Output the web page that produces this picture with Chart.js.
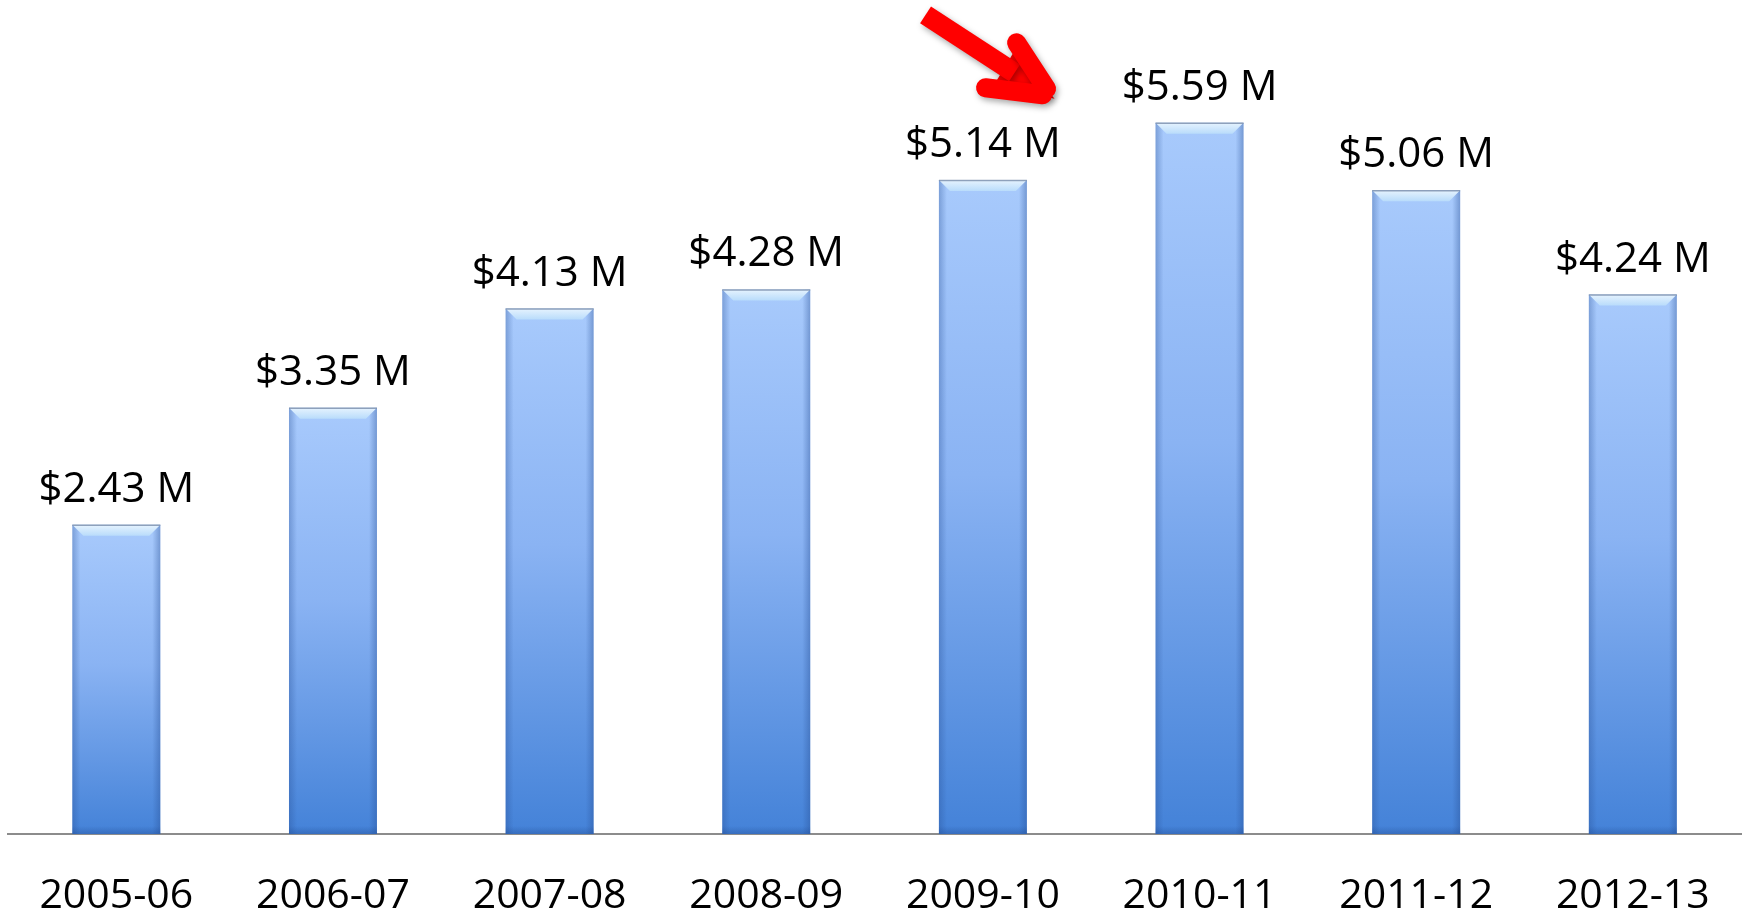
<!DOCTYPE html>
<html>
<head>
<meta charset="utf-8">
<title>Revenue by season</title>
<script src="https://cdn.jsdelivr.net/npm/chart.js@4/dist/chart.umd.min.js"></script>
<style>
    html, body { margin: 0; padding: 0; background: #ffffff; }
    #wrap { width: 1748px; height: 916px; position: relative; }
</style>
</head>
<body>
<div id="wrap"><canvas id="revenueChart"></canvas></div>
<script>
// Seasons and revenue (millions of dollars)
const seasons = ['2005-06', '2006-07', '2007-08', '2008-09', '2009-10', '2010-11', '2011-12', '2012-13'];
const revenue = [2.43, 3.35, 4.13, 4.28, 5.14, 5.59, 5.06, 4.24];
const highlightIndex = 5;

const FONT = '"Open Sans", "Noto Sans", sans-serif';

/**
 * Per-bar vertical gradient, light at the top of each bar, darker at the base
 */
function barGradient(context) {
    const chart = context.chart;
    const yScale = chart.scales.y;
    if (!chart.chartArea || !yScale || context.parsed === undefined) return '#8ab4f5';
    const top = yScale.getPixelForValue(context.parsed.y);
    const base = yScale.getPixelForValue(0);
    const g = chart.ctx.createLinearGradient(0, top, 0, base);
    g.addColorStop(0, '#a8cafc');
    g.addColorStop(0.45, '#8ab3f3');
    g.addColorStop(1, '#4482d8');
    return g;
}

// Bevel on top of each bar plus darker side edges
const bevelPlugin = {
    id: 'bevel',
    afterDatasetsDraw(chart) {
        const ctx = chart.ctx;
        const meta = chart.getDatasetMeta(0);
        meta.data.forEach(bar => {
            const left = bar.x - bar.width / 2;
            const right = bar.x + bar.width / 2;
            const top = bar.y;
            const base = bar.base;
            const b = 11;
            ctx.save();

            // side edges
            const side = ctx.createLinearGradient(left, 0, left + 8, 0);
            side.addColorStop(0, 'rgba(40, 80, 150, 0.35)');
            side.addColorStop(1, 'rgba(40, 80, 150, 0)');
            ctx.fillStyle = side;
            ctx.fillRect(left, top, 8, base - top);
            const side2 = ctx.createLinearGradient(right, 0, right - 8, 0);
            side2.addColorStop(0, 'rgba(40, 80, 150, 0.4)');
            side2.addColorStop(1, 'rgba(40, 80, 150, 0)');
            ctx.fillStyle = side2;
            ctx.fillRect(right - 8, top, 8, base - top);

            // bottom edge
            const bot = ctx.createLinearGradient(0, base, 0, base - 8);
            bot.addColorStop(0, 'rgba(30, 70, 140, 0.35)');
            bot.addColorStop(1, 'rgba(30, 70, 140, 0)');
            ctx.fillStyle = bot;
            ctx.fillRect(left, base - 8, bar.width, 8);

            // top bevel
            const bev = ctx.createLinearGradient(0, top, 0, top + b);
            bev.addColorStop(0, '#e6f3fe');
            bev.addColorStop(1, '#b9dcfb');
            ctx.fillStyle = bev;
            ctx.beginPath();
            ctx.moveTo(left, top);
            ctx.lineTo(right, top);
            ctx.lineTo(right - b, top + b);
            ctx.lineTo(left + b, top + b);
            ctx.closePath();
            ctx.fill();

            // thin outline along the top
            ctx.strokeStyle = 'rgba(120, 140, 170, 0.8)';
            ctx.lineWidth = 1.5;
            ctx.beginPath();
            ctx.moveTo(left, top + 0.5);
            ctx.lineTo(right, top + 0.5);
            ctx.stroke();
            ctx.restore();
        });
    }
};

// Value labels above bars
const valueLabels = {
    id: 'valueLabels',
    afterDatasetsDraw(chart) {
        const ctx = chart.ctx;
        const meta = chart.getDatasetMeta(0);
        ctx.save();
        ctx.fillStyle = '#000000';
        ctx.font = '42px ' + FONT;
        ctx.textAlign = 'center';
        ctx.textBaseline = 'middle';
        meta.data.forEach((bar, i) => {
            ctx.fillText('$' + revenue[i].toFixed(2) + ' M', bar.x, bar.y - 35);
        });
        ctx.restore();
    }
};

// Red arrow pointing at the peak season
const arrowPlugin = {
    id: 'arrow',
    afterDraw(chart) {
        const bar = chart.getDatasetMeta(0).data[highlightIndex];
        if (!bar) return;
        const ox = bar.x, oy = bar.y;
        const ctx = chart.ctx;
        const tip = [ox - 145, oy - 24];
        const start = [ox - 274, oy - 108];
        const barb1 = [ox - 183, oy - 80];
        const barb2 = [ox - 214, oy - 35];
        ctx.save();
        ctx.shadowColor = 'rgba(0, 0, 0, 0.35)';
        ctx.shadowBlur = 6;
        ctx.shadowOffsetX = 2;
        ctx.shadowOffsetY = 3;
        ctx.strokeStyle = '#ff0000';
        ctx.fillStyle = '#ff0000';
        ctx.lineWidth = 20;
        ctx.lineCap = 'round';
        ctx.lineJoin = 'round';

        ctx.beginPath();
        ctx.moveTo(tip[0], tip[1]);
        ctx.lineTo(barb1[0] - 2, barb1[1] + 8);
        ctx.lineTo(barb2[0] + 8, barb2[1] - 2);
        ctx.closePath();
        ctx.fill();

        ctx.beginPath();
        ctx.lineCap = 'butt';
        ctx.moveTo(start[0], start[1]);
        ctx.lineTo(tip[0] - 40, tip[1] - 26);
        ctx.stroke();

        ctx.lineCap = 'round';
        ctx.lineWidth = 19;
        ctx.beginPath();
        ctx.moveTo(barb1[0], barb1[1]);
        ctx.lineTo(tip[0] - 8, tip[1] - 10);
        ctx.moveTo(barb2[0], barb2[1]);
        ctx.lineTo(tip[0] - 12, tip[1] - 4);
        ctx.stroke();
        ctx.restore();
    }
};

new Chart(document.getElementById('revenueChart'), {
    type: 'bar',
    data: {
        labels: seasons,
        datasets: [{
            data: revenue,
            backgroundColor: barGradient,
            borderWidth: 0,
            categoryPercentage: 1.0,
            barPercentage: 0.406
        }]
    },
    options: {
        responsive: true,
        maintainAspectRatio: false,
        animation: false,
        layout: {
            padding: { top: 7, left: 8, right: 4, bottom: 0 }
        },
        plugins: {
            legend: { display: false },
            tooltip: { enabled: false }
        },
        scales: {
            x: {
                grid: { display: false, drawTicks: false },
                border: { display: true, color: '#8c8c8c', width: 2 },
                ticks: {
                    color: '#000000',
                    padding: 38,
                    font: { family: FONT, size: 41 }
                },
                afterFit(scale) {
                    // room below the axis line for one row of labels
                    scale.height = 82;
                }
            },
            y: {
                display: false,
                min: 0,
                max: 6.5
            }
        }
    },
    plugins: [bevelPlugin, valueLabels, arrowPlugin]
});
</script>
</body>
</html>
